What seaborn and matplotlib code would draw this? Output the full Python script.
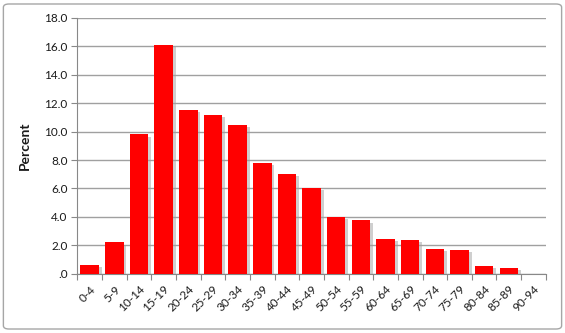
import matplotlib
matplotlib.use("Agg")
import matplotlib.pyplot as plt
import matplotlib.patheffects as pe
from matplotlib.patches import FancyBboxPatch
import seaborn as sns
import pandas as pd
import numpy as np

categories = ["0-4", "5-9", "10-14", "15-19", "20-24", "25-29", "30-34", "35-39",
              "40-44", "45-49", "50-54", "55-59", "60-64", "65-69", "70-74",
              "75-79", "80-84", "85-89", "90-94"]
percent = [0.6, 2.2, 9.8, 16.1, 11.55, 11.2, 10.5, 7.8, 7.0, 6.05, 4.0, 3.75,
           2.45, 2.4, 1.72, 1.68, 0.55, 0.42, 0.0]
yticks = [0, 2, 4, 6, 8, 10, 12, 14, 16, 18]
ytick_labels = [".0", "2.0", "4.0", "6.0", "8.0", "10.0", "12.0", "14.0", "16.0", "18.0"]

sns.set_theme(style="white")
plt.rcParams["font.family"] = ["Lato", "DejaVu Sans"]

df = pd.DataFrame({"age": categories, "pct": percent})

fig = plt.figure(figsize=(5.65, 3.33), dpi=100)
fig.patch.set_facecolor("white")
border = FancyBboxPatch((0.006, 0.012), 0.988, 0.976, boxstyle="round,pad=0,rounding_size=0.01",
                        transform=fig.transFigure, facecolor="none", edgecolor="#a6a6a6",
                        linewidth=1.0, zorder=-5)
fig.patches.append(border)

ax = fig.add_axes([0.137, 0.178, 0.829, 0.768])
ax.set_facecolor("none")
sns.barplot(data=df, x="age", y="pct", color="#ff0000", saturation=1, width=0.75,
            ax=ax, zorder=3)
for p in ax.patches:
    p.set_edgecolor("none")
    p.set_path_effects([pe.SimplePatchShadow(offset=(2, -1.5), shadow_rgbFace="#a0a0a0", alpha=0.5),
                        pe.Normal()])

ax.set_xlim(-0.5, len(categories) - 0.5)
ax.set_ylim(0, 18)
ax.set_yticks(yticks)
ax.set_yticklabels(ytick_labels, fontsize=8.5, color="#1a1a1a")
ax.yaxis.grid(True, color="#a0a0a0", linewidth=1.0, zorder=0)
ax.set_axisbelow(True)

ax.set_xticks(np.arange(len(categories)))
ax.set_xticklabels(categories, rotation=45, ha="right", rotation_mode="anchor",
                   fontsize=8.5, color="#1a1a1a")
ax.tick_params(axis="x", which="major", length=0, pad=7)
ax.set_xticks(np.arange(len(categories) + 1) - 0.5, minor=True)
ax.tick_params(axis="x", which="minor", length=4, color="#888888", width=0.8, direction="out", bottom=True)
ax.tick_params(axis="y", length=4, color="#888888", width=0.8, direction="out", pad=3, left=True)

for s in ["top", "right"]:
    ax.spines[s].set_visible(False)
for s in ["left", "bottom"]:
    ax.spines[s].set_color("#888888")
    ax.spines[s].set_linewidth(0.8)

ax.set_xlabel("")
ax.set_ylabel("Percent", fontsize=10, fontweight="bold", color="#1a1a1a", labelpad=10)

fig.savefig("out.png", dpi=100, facecolor="white")
